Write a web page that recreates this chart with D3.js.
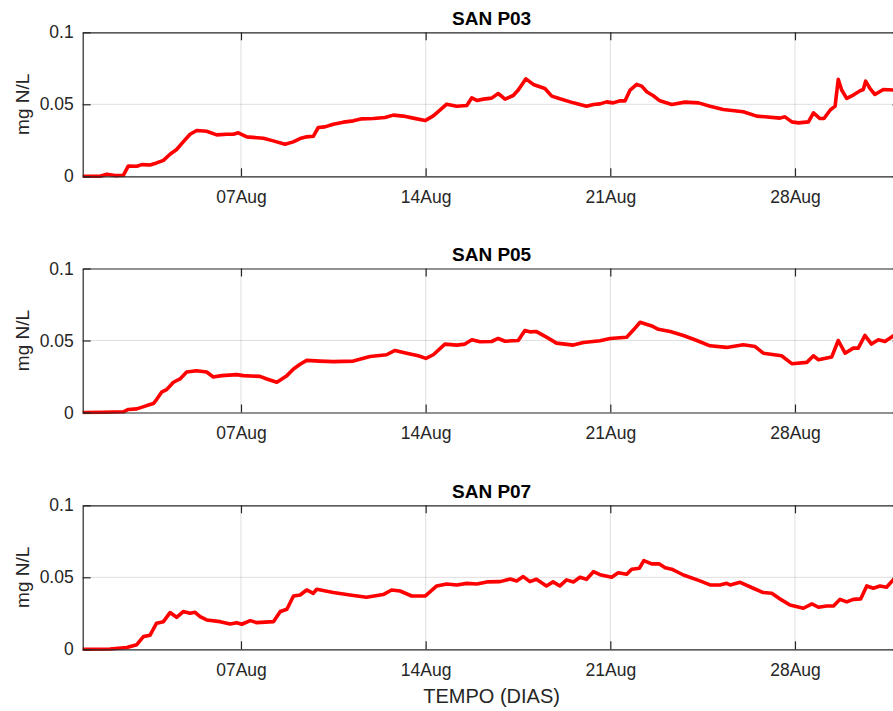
<!DOCTYPE html>
<html>
<head>
<meta charset="utf-8">
<script src="https://cdn.jsdelivr.net/npm/d3@7"></script>
<style>
  html, body { margin: 0; padding: 0; background: #ffffff; }
  svg { display: block; }
  text { font-family: "Liberation Sans", Arial, Helvetica, sans-serif; fill: #262626; }
</style>
</head>
<body>
<svg id="chart" width="893" height="711"></svg>
<script>
// ---- Data: [day offset from 01 Aug, value in mg N/L] ----
const panelTitles = ["SAN P03", "SAN P05", "SAN P07"];
const yLabel = "mg N/L";
const xLabel = "TEMPO (DIAS)";
const yTickValues = [0, 0.05, 0.1];
const xTickDates = ["2019-08-07", "2019-08-14", "2019-08-21", "2019-08-28"];
const xDomain = ["2019-08-01", "2019-09-01"];

const p03 = [[0,0],[0.66,0],[0.91,0.0014],[1.22,0.0005],[1.54,0.0007],[1.73,0.0072],[2.05,0.007],[2.24,0.0081],[2.55,0.0079],[2.8,0.0093],[3.06,0.0111],[3.31,0.0153],[3.56,0.0186],[3.81,0.0239],[4.07,0.0292],[4.32,0.0318],[4.7,0.0313],[5.08,0.0288],[5.46,0.0292],[5.71,0.0292],[5.9,0.0302],[6.22,0.0274],[6.85,0.0264],[7.22,0.0246],[7.67,0.0223],[7.98,0.0239],[8.24,0.0262],[8.49,0.0274],[8.74,0.0278],[8.93,0.0339],[9.18,0.0343],[9.5,0.0362],[9.88,0.0376],[10.26,0.0385],[10.58,0.0399],[11.02,0.0401],[11.46,0.0408],[11.77,0.0425],[12.15,0.0418],[12.53,0.0404],[12.98,0.0387],[13.29,0.042],[13.54,0.0459],[13.8,0.0501],[14.18,0.0487],[14.56,0.0492],[14.75,0.0545],[14.94,0.0527],[15.19,0.0536],[15.5,0.0543],[15.75,0.0575],[16.01,0.0536],[16.32,0.0561],[16.51,0.0599],[16.8,0.0677],[17.08,0.0638],[17.52,0.061],[17.78,0.0557],[18.09,0.0538],[18.6,0.051],[19.1,0.0487],[19.36,0.0499],[19.61,0.0503],[19.86,0.0517],[20.11,0.051],[20.37,0.0524],[20.56,0.0524],[20.75,0.0599],[21.0,0.0638],[21.19,0.0626],[21.38,0.0587],[21.63,0.0559],[21.88,0.0524],[22.33,0.0499],[22.83,0.0515],[23.34,0.051],[23.78,0.0487],[24.28,0.0464],[25.04,0.0448],[25.55,0.0418],[26.43,0.0404],[26.62,0.0413],[26.88,0.0378],[27.13,0.0371],[27.51,0.0378],[27.7,0.0441],[27.95,0.0401],[28.1,0.0401],[28.33,0.0459],[28.52,0.0487],[28.64,0.0673],[28.77,0.0599],[28.96,0.0541],[29.21,0.0564],[29.47,0.0594],[29.59,0.0603],[29.68,0.0661],[29.84,0.061],[30.03,0.0568],[30.35,0.0603],[30.72,0.0599],[31,0.0599]];

const p05 = [[0,0],[0.78,0.0002],[1.54,0.0005],[1.73,0.0021],[2.05,0.0025],[2.43,0.0048],[2.68,0.0062],[2.8,0.009],[2.99,0.0141],[3.18,0.0159],[3.44,0.021],[3.69,0.0233],[3.94,0.0281],[4.32,0.029],[4.7,0.0281],[4.95,0.0247],[5.27,0.0256],[5.84,0.0263],[6.09,0.0256],[6.72,0.0251],[6.98,0.0233],[7.36,0.021],[7.74,0.0256],[7.99,0.0302],[8.24,0.0335],[8.49,0.0362],[9.0,0.0357],[9.5,0.0353],[10.26,0.0357],[10.89,0.0389],[11.52,0.0401],[11.84,0.0431],[12.28,0.0412],[12.72,0.0394],[13.01,0.0376],[13.29,0.0401],[13.73,0.0475],[14.18,0.0468],[14.49,0.0475],[14.75,0.0505],[15.06,0.0491],[15.5,0.0493],[15.75,0.0514],[16.01,0.0495],[16.51,0.05],[16.76,0.0569],[16.95,0.056],[17.2,0.0562],[17.58,0.0523],[17.96,0.0482],[18.6,0.0468],[18.98,0.0486],[19.61,0.0498],[19.99,0.0514],[20.62,0.0523],[20.88,0.0574],[21.13,0.0627],[21.57,0.0601],[21.82,0.0578],[22.27,0.0562],[22.77,0.0535],[23.28,0.05],[23.78,0.0463],[24.41,0.0452],[25.04,0.047],[25.49,0.0458],[25.8,0.0412],[26.49,0.0394],[26.88,0.0339],[27.45,0.0348],[27.7,0.0394],[27.89,0.0366],[28.39,0.0385],[28.64,0.05],[28.9,0.0412],[29.21,0.0447],[29.4,0.0447],[29.65,0.0535],[29.9,0.0475],[30.16,0.0505],[30.41,0.0493],[30.72,0.0532],[31,0.054]];

const p07 = [[0,0],[1.03,0.0002],[1.67,0.0012],[2.05,0.0032],[2.3,0.0088],[2.55,0.0097],[2.8,0.0181],[3.06,0.0192],[3.31,0.0255],[3.56,0.0222],[3.81,0.0262],[4.07,0.025],[4.26,0.0257],[4.45,0.0227],[4.7,0.0204],[5.21,0.0192],[5.59,0.0176],[5.84,0.0185],[6.03,0.0174],[6.35,0.0199],[6.6,0.0185],[7.23,0.0192],[7.49,0.0262],[7.74,0.0278],[7.99,0.037],[8.24,0.0377],[8.49,0.0412],[8.74,0.0389],[8.87,0.0417],[9.5,0.0394],[10.13,0.0377],[10.76,0.0361],[11.39,0.038],[11.71,0.0412],[12.03,0.0405],[12.47,0.037],[12.98,0.037],[13.42,0.044],[13.8,0.0454],[14.18,0.0447],[14.56,0.0458],[14.94,0.0454],[15.32,0.0468],[15.82,0.047],[16.2,0.0488],[16.45,0.0475],[16.7,0.0505],[16.95,0.047],[17.2,0.0486],[17.58,0.044],[17.83,0.0468],[18.09,0.044],[18.34,0.0482],[18.6,0.0468],[18.85,0.05],[19.1,0.0486],[19.36,0.0539],[19.61,0.0518],[20.05,0.05],[20.3,0.0532],[20.62,0.0521],[20.81,0.0556],[21.1,0.0563],[21.27,0.0616],[21.57,0.0593],[21.86,0.0593],[22.08,0.0567],[22.33,0.0556],[22.77,0.0516],[23.4,0.0475],[23.78,0.0447],[24.16,0.0447],[24.41,0.0458],[24.54,0.0447],[24.92,0.0465],[25.42,0.0424],[25.8,0.0394],[26.12,0.0389],[26.49,0.0343],[26.81,0.0308],[27.32,0.0285],[27.64,0.0315],[27.89,0.0292],[28.2,0.0301],[28.46,0.0301],[28.71,0.0347],[28.96,0.0329],[29.21,0.0347],[29.49,0.035],[29.72,0.044],[29.97,0.0424],[30.22,0.044],[30.47,0.0431],[30.72,0.0482],[31,0.049]];

const panelSeries = [p03, p05, p07];

// ---- Layout ----
const svg = d3.select("#chart");
const plotLeft = 82.7, plotRight = 900.5;
const panelTops = [32.3, 268.5, 505.3];
const panelHeight = 144;
const tickLen = 8;
const axisColor = "#262626";
const fmtX = d3.utcFormat("%d%b");
const parse = s => new Date(s + "T00:00:00Z");
const startMs = parse(xDomain[0]).getTime();
const dayToDate = d => new Date(startMs + d * 86400000);

const x = d3.scaleUtc().domain(xDomain.map(parse)).range([plotLeft, plotRight]);
const xTicks = xTickDates.map(parse);

svg.append("defs").selectAll("clipPath")
  .data(panelTops).join("clipPath")
  .attr("id", (d, i) => "clip" + i)
  .append("rect")
  .attr("x", plotLeft).attr("y", d => d - 2)
  .attr("width", plotRight - plotLeft).attr("height", panelHeight + 4);

panelTops.forEach((top, i) => {
  const bottom = top + panelHeight;
  const y = d3.scaleLinear().domain([0, 0.1]).range([bottom, top]);
  const g = svg.append("g");

  // grid
  g.append("g").selectAll("line").data(xTicks).join("line")
    .attr("x1", d => x(d)).attr("x2", d => x(d))
    .attr("y1", top).attr("y2", bottom)
    .attr("stroke", axisColor).attr("stroke-opacity", 0.15).attr("stroke-width", 1);
  g.append("g").selectAll("line").data(yTickValues.filter(v => v > 0 && v < 0.1)).join("line")
    .attr("x1", plotLeft).attr("x2", plotRight)
    .attr("y1", d => y(d)).attr("y2", d => y(d))
    .attr("stroke", axisColor).attr("stroke-opacity", 0.15).attr("stroke-width", 1);

  // series
  const line = d3.line()
    .x(d => x(dayToDate(d[0])))
    .y(d => y(d[1]));
  g.append("path")
    .datum(panelSeries[i])
    .attr("clip-path", `url(#clip${i})`)
    .attr("fill", "none")
    .attr("stroke", "#ff0000")
    .attr("stroke-width", 3.6)
    .attr("stroke-linejoin", "round")
    .attr("stroke-linecap", "round")
    .attr("d", line);

  // axes (ticks pointing inward, MATLAB-style)
  const styleAxis = sel => {
    sel.select(".domain").attr("stroke", axisColor).attr("stroke-width", 1.2);
    sel.selectAll(".tick line").attr("stroke", axisColor).attr("stroke-width", 1.2);
    sel.selectAll(".tick text").attr("fill", axisColor)
      .style("font-size", "17.5px")
      .style("font-family", '"Liberation Sans", Arial, Helvetica, sans-serif');
  };

  g.append("g").attr("transform", `translate(0,${bottom})`)
    .call(d3.axisBottom(x).tickValues(xTicks).tickFormat(fmtX)
      .tickSizeInner(-tickLen).tickSizeOuter(0).tickPadding(14))
    .call(styleAxis);
  g.append("g").attr("transform", `translate(0,${top})`)
    .call(d3.axisTop(x).tickValues(xTicks).tickFormat("")
      .tickSizeInner(-tickLen).tickSizeOuter(0))
    .call(styleAxis);
  g.append("g").attr("transform", `translate(${plotLeft},0)`)
    .call(d3.axisLeft(y).tickValues(yTickValues).tickFormat(d => String(d))
      .tickSizeInner(-tickLen).tickSizeOuter(0).tickPadding(9))
    .call(styleAxis);
  g.append("g").attr("transform", `translate(${plotRight},0)`)
    .call(d3.axisRight(y).tickValues(yTickValues).tickFormat("")
      .tickSizeInner(-tickLen).tickSizeOuter(0))
    .call(styleAxis);

  // title
  g.append("text")
    .attr("x", (plotLeft + plotRight) / 2)
    .attr("y", top - 7.5)
    .attr("text-anchor", "middle")
    .style("font-size", "19px")
    .style("font-weight", "bold")
    .style("fill", "#000")
    .text(panelTitles[i]);

  // y label
  g.append("text")
    .attr("transform", `translate(29,${top + panelHeight / 2}) rotate(-90)`)
    .attr("text-anchor", "middle")
    .style("font-size", "19px")
    .text(yLabel);
});

svg.append("text")
  .attr("x", (plotLeft + plotRight) / 2)
  .attr("y", 702.5)
  .attr("text-anchor", "middle")
  .style("font-size", "20px")
  .text(xLabel);
</script>
</body>
</html>
